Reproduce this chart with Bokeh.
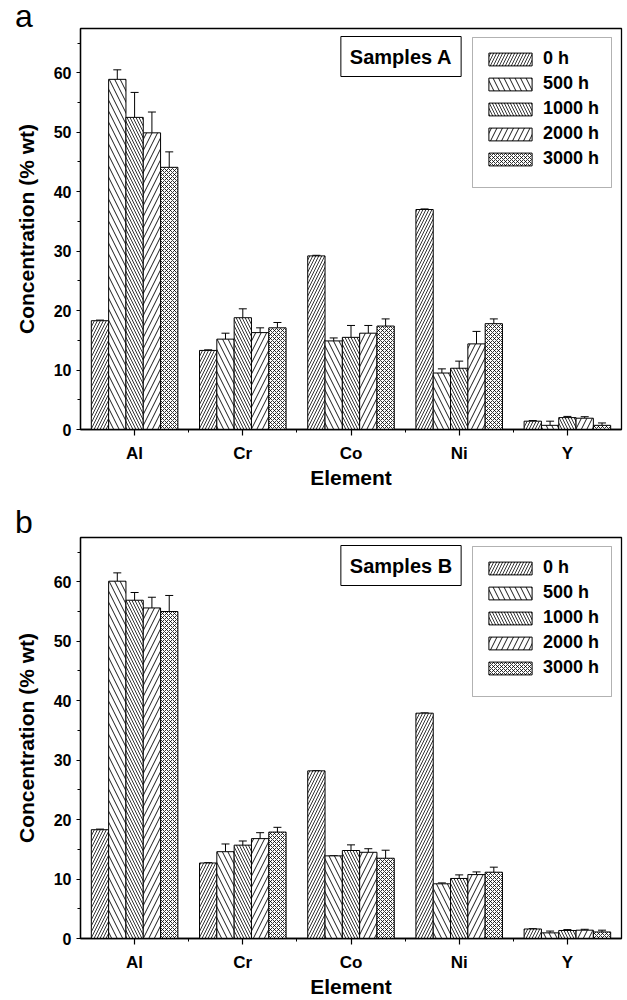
from bokeh.plotting import figure
from bokeh.models import (ColumnDataSource, Legend, LegendItem, Whisker, TeeHead,
                          Label, FixedTicker, Range1d, Div, BoxAnnotation)
from bokeh.layouts import column
from bokeh.embed import file_html
from bokeh.resources import INLINE

FONT = "Liberation Sans"

elements = ["Al", "Cr", "Co", "Ni", "Y"]
series_labels = ["0 h", "500 h", "1000 h", "2000 h", "3000 h"]

# Samples A (% wt) and upper error
a_0h = [18.3, 13.3, 29.2, 37.0, 1.4]
a_0h_err = [0.1, 0.1, 0.1, 0.1, 0.1]
a_500h = [58.9, 15.2, 14.9, 9.5, 0.7]
a_500h_err = [1.6, 1.0, 0.5, 0.7, 0.7]
a_1000h = [52.5, 18.8, 15.5, 10.3, 2.0]
a_1000h_err = [4.2, 1.5, 2.0, 1.2, 0.2]
a_2000h = [49.9, 16.3, 16.2, 14.4, 1.9]
a_2000h_err = [3.5, 0.8, 1.3, 2.1, 0.25]
a_3000h = [44.1, 17.1, 17.4, 17.8, 0.7]
a_3000h_err = [2.6, 0.9, 1.2, 0.8, 0.4]

# Samples B
b_0h = [18.3, 12.7, 28.2, 37.9, 1.6]
b_0h_err = [0.1, 0.05, 0.05, 0.05, 0.05]
b_500h = [60.1, 14.6, 13.9, 9.2, 0.95]
b_500h_err = [1.4, 1.3, 0.05, 0.15, 0.3]
b_1000h = [56.9, 15.7, 14.8, 10.1, 1.35]
b_1000h_err = [1.3, 0.7, 0.95, 0.6, 0.15]
b_2000h = [55.6, 16.8, 14.5, 10.75, 1.4]
b_2000h_err = [1.8, 1.0, 0.6, 0.45, 0.15]
b_3000h = [55.0, 17.9, 13.5, 11.15, 1.1]
b_3000h_err = [2.7, 0.8, 1.35, 0.85, 0.3]

y_ticks = [0, 10, 20, 30, 40, 50, 60]
y_minor = [5, 15, 25, 35, 45, 55, 65]

hatches = ["/", "\\", "\\", "/", "x"]
hatch_scales = [6, 11, 6, 11, 4]
hatch_weights = [0.8, 0.9, 0.8, 0.9, 0.8]
BAR_W = 0.16

X0, X1, Y0, Y1 = 0.5, 5.5, 0, 67.45
FW, FH, BL, BT_A = 541, 401, 80, 28


def make_panel(title, values, errors, top_border):
    p = figure(frame_width=FW, frame_height=FH,
               x_range=Range1d(X0, X1), y_range=Range1d(Y0, Y1),
               output_backend="svg", toolbar_location=None,
               min_border_left=BL, min_border_right=6,
               min_border_top=top_border, min_border_bottom=62)
    p.grid.visible = False
    p.outline_line_color = "black"
    p.outline_line_width = 1.3
    p.background_fill_color = "white"
    p.border_fill_color = "white"

    def dx(px):
        return X0 + px * (X1 - X0) / FW

    def dy(py):
        return Y1 - py * (Y1 - Y0) / FH

    # legend frame box
    p.add_layout(BoxAnnotation(left=dx(392), right=dx(531), top=dy(9),
                               bottom=dy(159), fill_color="white", fill_alpha=1,
                               line_color="black", line_width=1))

    items = []
    for j, (vals, errs) in enumerate(zip(values, errors)):
        xs = [i + 1 + (j - 2) * BAR_W for i in range(len(elements))]
        src = ColumnDataSource(dict(
            x=xs, top=vals,
            upper=[v + e for v, e in zip(vals, errs)]))
        r = p.vbar(x="x", top="top", width=BAR_W, bottom=0, source=src,
                   fill_color="white", line_color="black", line_width=1,
                   hatch_pattern=hatches[j], hatch_scale=hatch_scales[j],
                   hatch_color="black", hatch_weight=hatch_weights[j])
        w = Whisker(base="x", lower="top", upper="upper", source=src,
                    upper_head=TeeHead(size=8, line_color="black", line_width=1),
                    lower_head=None, line_color="black", line_width=1)
        p.add_layout(w)
        items.append(LegendItem(label=series_labels[j], renderers=[r]))

    legend = Legend(items=items, location="top_right", margin=10, padding=10,
                    spacing=4, glyph_width=54, glyph_height=16, label_height=20,
                    label_width=58, label_standoff=6, label_text_font=FONT,
                    label_text_font_style="bold", label_text_font_size="18px",
                    label_text_color="black",
                    border_line_color="black", border_line_alpha=0,
                    background_fill_alpha=0)
    p.add_layout(legend)

    p.xaxis.ticker = FixedTicker(ticks=[1, 2, 3, 4, 5],
                                 minor_ticks=[1.5, 2.5, 3.5, 4.5])
    p.xaxis.major_label_overrides = {i + 1: e for i, e in enumerate(elements)}
    p.yaxis.ticker = FixedTicker(ticks=y_ticks, minor_ticks=y_minor)

    for ax in (p.xaxis[0], p.yaxis[0]):
        ax.axis_line_color = "black"
        ax.axis_line_width = 1.3
        ax.major_tick_line_color = "black"
        ax.minor_tick_line_color = "black"
        ax.major_tick_line_width = 1.2
        ax.minor_tick_line_width = 1
        ax.major_tick_in = 0
        ax.minor_tick_in = 0
        ax.major_label_text_font = FONT
        ax.major_label_text_font_style = "bold"
        ax.major_label_text_color = "black"
        ax.axis_label_text_font = FONT
        ax.axis_label_text_font_style = "bold"
        ax.axis_label_text_font_size = "21px"
        ax.axis_label_text_color = "black"
    p.xaxis.major_tick_out = 6
    p.xaxis.minor_tick_out = 3
    p.yaxis.major_tick_out = 4
    p.yaxis.minor_tick_out = 3
    p.xaxis.major_label_text_font_size = "17px"
    p.yaxis.major_label_text_font_size = "16px"
    p.xaxis.major_label_standoff = 8
    p.yaxis.major_label_standoff = 5
    p.xaxis.axis_label = "Element"
    p.yaxis.axis_label = "Concentration (% wt)"
    p.xaxis.axis_label_standoff = 0
    p.yaxis.axis_label_standoff = 13

    p.add_layout(Label(x=dx(320.5), y=dy(28), text=title, text_font=FONT,
                       text_font_style="bold", text_font_size="20px",
                       text_color="black",
                       text_align="center", text_baseline="middle",
                       padding=9, border_line_color="black",
                       border_line_width=1, background_fill_color="white"))
    return p


def letter_div(letter, top):
    html = ('<span style="font-family:\'Liberation Sans\';font-size:32px;'
            'line-height:24px;color:black">%s</span>' % letter)
    return Div(text=html, width=40, height=24, margin=(top, 0, -(top + 24), 15),
               styles={"position": "relative", "z-index": "5"})


pa = make_panel("Samples A",
                [a_0h, a_500h, a_1000h, a_2000h, a_3000h],
                [a_0h_err, a_500h_err, a_1000h_err, a_2000h_err, a_3000h_err],
                BT_A)
pb = make_panel("Samples B",
                [b_0h, b_500h, b_1000h, b_2000h, b_3000h],
                [b_0h_err, b_500h_err, b_1000h_err, b_2000h_err, b_3000h_err],
                46)

layout = column(letter_div("a", 4), pa, letter_div("b", 19), pb, spacing=0)
open("out.html", "w").write(file_html(layout, INLINE))
